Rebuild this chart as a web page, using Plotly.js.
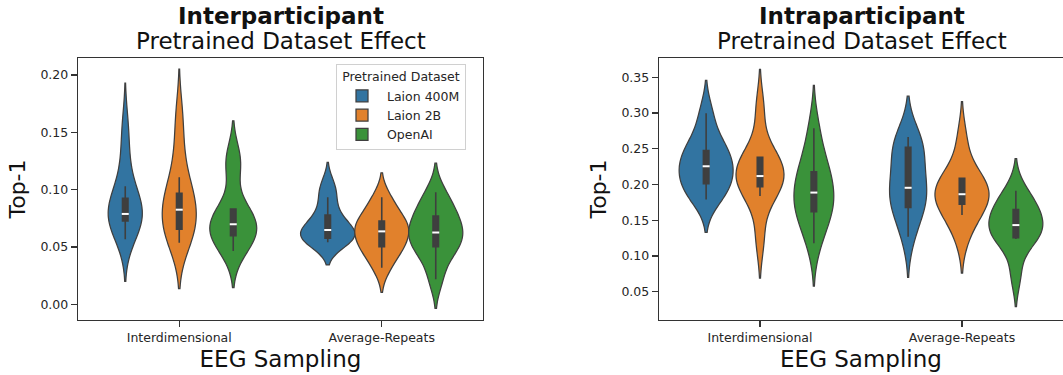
<!DOCTYPE html>
<html><head><meta charset="utf-8">
<script src="https://cdn.plot.ly/plotly-3.0.1.min.js"></script>
<style>html,body{margin:0;padding:0;background:#fff}#chart{width:1063px;height:375px}</style>
</head><body><div id="chart"></div>
<script>
// ---------------- data ----------------
const categories = ['Interdimensional', 'Average-Repeats'];
const datasets = ['Laion 400M', 'Laion 2B', 'OpenAI'];
const panelTitles = ['Interparticipant', 'Intraparticipant'];
const subTitle = 'Pretrained Dataset Effect';
const xTitle = 'EEG Sampling';
const yTitle = 'Top-1';
const legendTitle = 'Pretrained Dataset';

// Interparticipant Top-1 samples (estimated from the violins)
const inter_interdim_laion400m = [0.058, 0.068, 0.073, 0.076, 0.078, 0.0795, 0.088, 0.095, 0.103, 0.128, 0.155];
const inter_interdim_laion2b   = [0.0537, 0.060, 0.064, 0.072, 0.080, 0.085, 0.094, 0.0975, 0.1108, 0.135, 0.165];
const inter_interdim_openai    = [0.0465, 0.055, 0.060, 0.064, 0.068, 0.0715, 0.080, 0.083, 0.120, 0.128];
const inter_avgrep_laion400m   = [0.0541, 0.056, 0.0575, 0.060, 0.0635, 0.066, 0.072, 0.080, 0.0933, 0.104];
const inter_avgrep_laion2b     = [0.0319, 0.045, 0.049, 0.055, 0.062, 0.065, 0.070, 0.074, 0.082, 0.0933];
const inter_avgrep_openai      = [0.0218, 0.042, 0.049, 0.055, 0.061, 0.064, 0.072, 0.078, 0.086, 0.0977];

// Intraparticipant Top-1 samples
const intra_interdim_laion400m = [0.179, 0.190, 0.200, 0.210, 0.222, 0.229, 0.240, 0.250, 0.265, 0.2996];
const intra_interdim_laion2b   = [0.125, 0.1838, 0.195, 0.200, 0.210, 0.214, 0.230, 0.2385, 0.2388, 0.305];
const intra_interdim_openai    = [0.1178, 0.150, 0.160, 0.168, 0.185, 0.192, 0.210, 0.220, 0.240, 0.2786];
const intra_avgrep_laion400m   = [0.127, 0.158, 0.168, 0.180, 0.190, 0.200, 0.215, 0.235, 0.252, 0.260, 0.2665];
const intra_avgrep_laion2b     = [0.130, 0.1573, 0.170, 0.175, 0.183, 0.190, 0.200, 0.208, 0.2088, 0.262];
const intra_avgrep_openai      = [0.074, 0.1236, 0.126, 0.130, 0.140, 0.146, 0.160, 0.166, 0.175, 0.1912];

// inner box statistics [category][dataset]
const inter_q1     = [[0.0727, 0.0654, 0.0599], [0.0576, 0.0503, 0.0503]];
const inter_median = [[0.0788, 0.0825, 0.0698], [0.0648, 0.0636, 0.0626]];
const inter_q3     = [[0.0925, 0.0968, 0.0831], [0.0779, 0.0727, 0.0770]];
const inter_lower  = [[0.0567, 0.0537, 0.0465], [0.0541, 0.0319, 0.0218]];
const inter_upper  = [[0.1030, 0.1108, 0.0831], [0.0933, 0.0933, 0.0977]];

const intra_q1     = [[0.2010, 0.1968, 0.1621], [0.1680, 0.1724, 0.1254]];
const intra_median = [[0.2255, 0.2118, 0.1887], [0.1954, 0.1864, 0.1432]];
const intra_q3     = [[0.2475, 0.2381, 0.2177], [0.2520, 0.2088, 0.1648]];
const intra_lower  = [[0.1790, 0.1838, 0.1178], [0.1270, 0.1573, 0.1236]];
const intra_upper  = [[0.2996, 0.2388, 0.2786], [0.2665, 0.2088, 0.1912]];

// ---------------- style ----------------
const colors = ['#3274a1', '#e1812c', '#3a923a'];
const edge = '#3f3f3f';
const FONT = 'DejaVu Sans';
const inter_bw = [[0.019, 0.020, 0.016], [0.0099, 0.0107, 0.0127]];
const intra_bw = [[0.023, 0.028, 0.030], [0.0285, 0.027, 0.0225]];
const inter_wscale = [[0.63, 0.63, 0.87], [1, 1, 1]];
const intra_wscale = [[1, 0.89, 0.74], [0.69, 1, 1]];

const panels = [
  {samples: [[inter_interdim_laion400m, inter_interdim_laion2b, inter_interdim_openai],
             [inter_avgrep_laion400m, inter_avgrep_laion2b, inter_avgrep_openai]],
   q1: inter_q1, med: inter_median, q3: inter_q3, lo: inter_lower, hi: inter_upper,
   bw: inter_bw, ws: inter_wscale, xa: 'x', ya: 'y'},
  {samples: [[intra_interdim_laion400m, intra_interdim_laion2b, intra_interdim_openai],
             [intra_avgrep_laion400m, intra_avgrep_laion2b, intra_avgrep_openai]],
   q1: intra_q1, med: intra_median, q3: intra_q3, lo: intra_lower, hi: intra_upper,
   bw: intra_bw, ws: intra_wscale, xa: 'x2', ya: 'y2'}
];

const slot = 0.8 / datasets.length;
const traces = [];
const boxTraces = [];
const medTraces = [];
panels.forEach((P, p) => {
  const mx = [], my = [];
  categories.forEach((cat, c) => {
    datasets.forEach((ds, d) => {
      const pos = c + (d - (datasets.length - 1) / 2) * slot;
      traces.push({
        type: 'violin', xaxis: P.xa, yaxis: P.ya, x0: pos, y: P.samples[c][d],
        name: ds, legendgroup: ds, showlegend: p === 0 && c === 0,
        fillcolor: colors[d], line: {color: edge, width: 1.25}, opacity: 1,
        bandwidth: P.bw[c][d], width: slot * P.ws[c][d], scalemode: 'width', spanmode: 'soft',
        points: false, box: {visible: false}, meanline: {visible: false}, hoverinfo: 'skip'
      });
      boxTraces.push({
        type: 'box', xaxis: P.xa, yaxis: P.ya, x: [pos],
        q1: [P.q1[c][d]], median: [P.med[c][d]], q3: [P.q3[c][d]],
        lowerfence: [P.lo[c][d]], upperfence: [P.hi[c][d]],
        width: 0.027, whiskerwidth: 0, fillcolor: edge, line: {color: edge, width: 1.6},
        showlegend: false, hoverinfo: 'skip', boxpoints: false
      });
      mx.push(pos); my.push(P.med[c][d]);
    });
  });
  medTraces.push({
    type: 'scatter', mode: 'markers', xaxis: P.xa, yaxis: P.ya, x: mx, y: my,
    marker: {symbol: 'line-ew', size: 5, color: 'white', line: {color: 'white', width: 2}},
    showlegend: false, hoverinfo: 'skip'
  });
});

const W = 1063, H = 375;
const axBase = {
  type: 'linear', showgrid: false, zeroline: false, showline: true, linecolor: '#333',
  linewidth: 1.25, ticks: 'outside', ticklen: 6, tickwidth: 1.25, tickcolor: '#333',
  tickfont: {family: FONT, size: 12.5, color: '#262626'}, automargin: false, fixedrange: true
};
const xax = (dom, mirror) => Object.assign({}, axBase, {
  domain: dom, range: [-0.5, 1.5], tickvals: categories.map((_, i) => i), ticktext: categories,
  mirror: mirror, title: {text: xTitle, font: {family: FONT, size: 23, color: '#111'}, standoff: 6}
});
const yax = (dom, range, tv, mirror) => Object.assign({}, axBase, {
  domain: dom, range: range, tickvals: tv, tickformat: '.2f', mirror: mirror,
  title: {text: yTitle, font: {family: FONT, size: 22, color: '#111'}, standoff: 8}
});
const yDom = [1 - 320 / H, 1 - 58 / H];

const layout = {
  width: W, height: H, margin: {l: 0, r: 0, t: 0, b: 0},
  paper_bgcolor: 'white', plot_bgcolor: 'white',
  font: {family: FONT, color: '#222'},
  violinmode: 'overlay', boxmode: 'overlay', showlegend: true,
  xaxis: xax([78 / W, 483 / W], true),
  yaxis: yax(yDom, [-0.0137, 0.2148], [0, 0.05, 0.10, 0.15, 0.20], true),
  xaxis2: Object.assign(xax([659 / W, 1], true), {anchor: 'y2'}),
  yaxis2: Object.assign(yax(yDom, [0.0104, 0.377], [0.05, 0.10, 0.15, 0.20, 0.25, 0.30, 0.35], false), {anchor: 'x2'}),
  legend: {
    x: 336 / W, y: 1 - 64 / H, xanchor: 'left', yanchor: 'top',
    bgcolor: 'rgba(255,255,255,0.85)', bordercolor: '#d0d0d0', borderwidth: 1,
    font: {family: FONT, size: 12.5, color: '#262626'}, tracegroupgap: 0, itemwidth: 40,
    title: {text: legendTitle, side: 'top center', font: {family: FONT, size: 12.5, color: '#262626'}}
  },
  annotations: [
    {text: '<b>' + panelTitles[0] + '</b>', x: 280.5 / W, y: 1 - 15.5 / H},
    {text: subTitle, x: 280.5 / W, y: 1 - 41 / H},
    {text: '<b>' + panelTitles[1] + '</b>', x: 861.5 / W, y: 1 - 15.5 / H},
    {text: subTitle, x: 861.5 / W, y: 1 - 41 / H}
  ].map(a => Object.assign({xref: 'paper', yref: 'paper', xanchor: 'center', yanchor: 'middle',
    showarrow: false, font: {family: FONT, size: 23, color: '#111'}}, a))
};

Plotly.newPlot('chart', traces.concat(boxTraces, medTraces), layout, {displayModeBar: false, staticPlot: true});
</script>
</body></html>
